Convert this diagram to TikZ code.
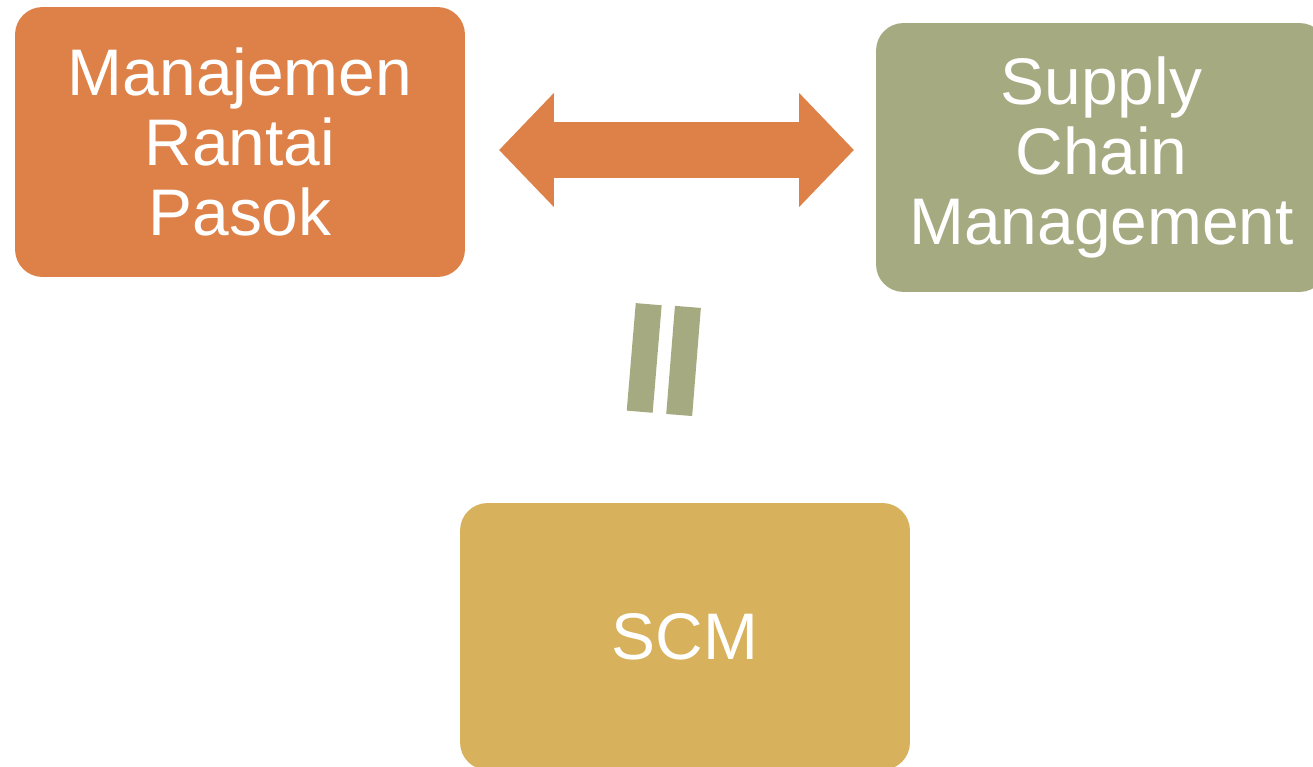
\documentclass[tikz,border=0pt]{standalone}
\usepackage{fontspec}
\setmainfont{Liberation Sans}
\usetikzlibrary{arrows.meta, positioning}

\definecolor{scmOrange}{RGB}{221,129,72}
\definecolor{scmGreen}{RGB}{165,170,129}
\definecolor{scmGold}{RGB}{215,177,92}

\begin{document}
\begin{tikzpicture}[
  x=0.02cm, y=-0.02cm,
  term/.style={rectangle, rounded corners=0.55cm, minimum width=9cm,
               minimum height=5.4cm, inner sep=0pt, text=white, align=center,
               font=\fontsize{37.5}{40}\selectfont},
  link/.style={draw=scmOrange, line width=1.12cm,
               {Triangle[length=1.1cm, width=2.22cm]}-{Triangle[length=1.1cm, width=2.22cm]}},
  eqbar/.style={draw=scmGreen, line width=0.52cm, line cap=butt}
]
  \useasboundingbox (0,0) rectangle (1313,767);

  \node[term, fill=scmOrange] (mrp) at (240,142) {Manajemen\\Rantai\\Pasok};
  \node[term, fill=scmGreen, minimum width=9.02cm, minimum height=5.38cm] (supply) at (1101.5,157.5) {Supply\\Chain\\Management};
  \node[term, fill=scmGold, minimum height=5.34cm] (scm) at (685,636.5) {SCM};

  % double arrow between the two names
  \coordinate (linkL) at (499,150);
  \coordinate (linkR) at (854,150);
  \draw[link] (linkL) -- (linkR);

  % tilted equals sign
  \coordinate (barAtop) at (648.7,304.2);
  \coordinate (barAbot) at (639.7,411.7);
  \coordinate (barBtop) at (687.9,306.9);
  \coordinate (barBbot) at (679.2,415);
  \draw[eqbar] (barAtop) -- (barAbot);
  \draw[eqbar] (barBtop) -- (barBbot);
\end{tikzpicture}
\end{document}
